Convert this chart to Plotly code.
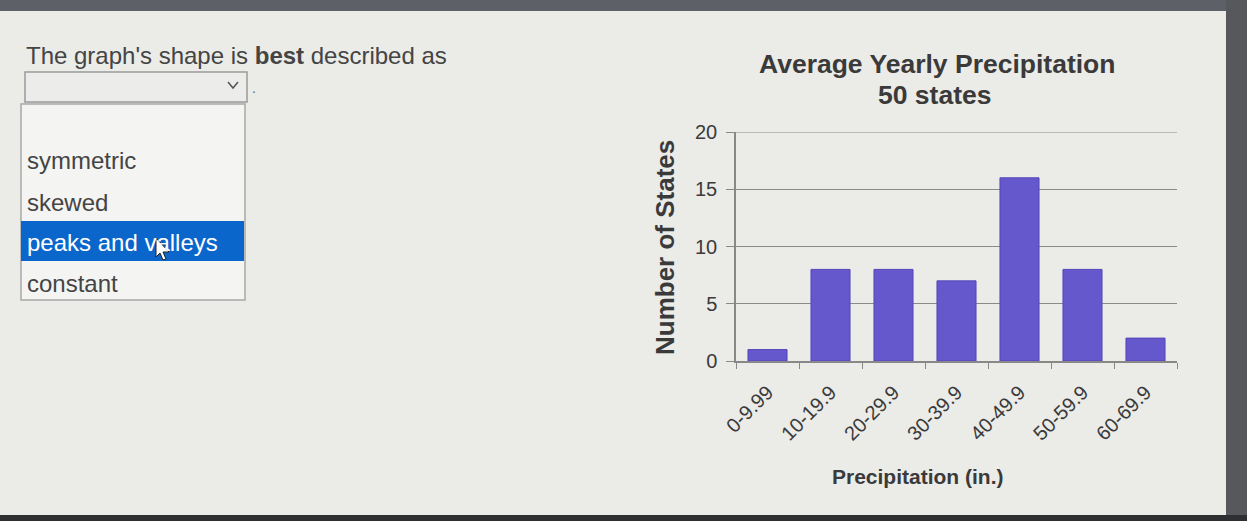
import plotly.graph_objects as go

W, H = 1247, 521

categories = ["0-9.99", "10-19.9", "20-29.9", "30-39.9", "40-49.9", "50-59.9", "60-69.9"]
counts = [1, 8, 8, 7, 16, 8, 2]
y_ticks = [0, 5, 10, 15, 20]
options = ["symmetric", "skewed", "peaks and valleys", "constant"]

FONT = "Arial, Liberation Sans, sans-serif"
TXT = "#3a3a3a"


def px(x):
    return x / W


def py(y):
    return 1 - y / H


fig = go.Figure()
fig.add_trace(go.Bar(
    x=categories, y=counts,
    marker=dict(color="#6558cc", line=dict(color="#5447bb", width=1)),
    hoverinfo="x+y", showlegend=False,
))

shapes = []
# photo frame strips
shapes.append(dict(type="rect", xref="paper", yref="paper", x0=0, x1=1, y0=py(11), y1=1,
                   fillcolor="#5d6066", line=dict(width=0), layer="below"))
shapes.append(dict(type="rect", xref="paper", yref="paper", x0=px(1226), x1=1, y0=0, y1=1,
                   fillcolor="#56585c", line=dict(width=0), layer="below"))
shapes.append(dict(type="rect", xref="paper", yref="paper", x0=0, x1=1, y0=0, y1=py(515),
                   fillcolor="#2e2f31", line=dict(width=0), layer="below"))

# dropdown box
shapes.append(dict(type="rect", xref="paper", yref="paper", x0=px(25), x1=px(247), y0=py(102), y1=py(72),
                   fillcolor="#ececea", line=dict(color="#9a9a9a", width=1.5), layer="below"))
# chevron
shapes.append(dict(type="path", xref="paper", yref="paper",
                   path=f"M {px(228)},{py(82)} L {px(233)},{py(88)} L {px(238)},{py(82)}",
                   line=dict(color="#555", width=1.5)))
# list box
shapes.append(dict(type="rect", xref="paper", yref="paper", x0=px(21), x1=px(245), y0=py(300), y1=py(104),
                   fillcolor="#f4f4f3", line=dict(color="#a8a8a8", width=1.5), layer="below"))
# highlight
shapes.append(dict(type="rect", xref="paper", yref="paper", x0=px(21), x1=px(244), y0=py(261), y1=py(221),
                   fillcolor="#0b66cc", line=dict(width=0), layer="below"))
# top gridline at the axis maximum
shapes.append(dict(type="line", xref="x domain", yref="y", x0=0, x1=1, y0=y_ticks[-1], y1=y_ticks[-1],
                   line=dict(color="#8a8a8a", width=1), layer="below"))
# cursor arrow
cx, cy = 156, 238
pts = [(0, 0), (0, 19), (4, 15), (7, 22), (10, 21), (7, 14), (13, 14)]
path = "M " + " L ".join(f"{px(cx + a)},{py(cy + b)}" for a, b in pts) + " Z"
shapes.append(dict(type="path", xref="paper", yref="paper", path=path,
                   fillcolor="#ffffff", line=dict(color="#222", width=1)))

annotations = []


def ann(text, x, y, size, color=TXT, xanchor="left", yanchor="middle", angle=0, bold=False):
    annotations.append(dict(
        text=f"<b>{text}</b>" if bold else text, x=px(x), y=py(y), xref="paper", yref="paper",
        xanchor=xanchor, yanchor=yanchor, showarrow=False, textangle=angle,
        font=dict(family=FONT, size=size, color=color),
    ))


ann("The graph's shape is <b>best</b> described as", 24, 55, 24, color="#444")
ann(".", 250, 88, 14, color="#666")
ys = [161, 202, 242, 283]
for opt, yy in zip(options, ys):
    ann(opt, 25, yy, 24, color="#ffffff" if opt == "peaks and valleys" else "#444")

ann("Average Yearly Precipitation", 937, 64, 26.5, xanchor="center", bold=True)
ann("50 states", 934, 95, 26.5, xanchor="center", bold=True)
ann("Number of States", 665, 248, 26, xanchor="center", angle=-90, bold=True)
ann("Precipitation (in.)", 918, 476, 21, xanchor="center", bold=True)

fig.update_layout(
    width=W, height=H, autosize=False,
    margin=dict(l=0, r=0, t=0, b=0, pad=0, autoexpand=False),
    paper_bgcolor="#ebebe8", plot_bgcolor="rgba(0,0,0,0)",
    bargap=0.38,
    shapes=shapes, annotations=annotations,
    font=dict(family=FONT, color=TXT),
    xaxis=dict(
        domain=[px(736), px(1177)], type="category",
        tickangle=-45, tickfont=dict(size=20, color=TXT),
        tickson="boundaries", ticks="outside", ticklen=6, tickcolor="#888",
        ticklabelstandoff=10, automargin=False,
        showline=True, linecolor="#888", linewidth=1.5, showgrid=False,
    ),
    yaxis=dict(
        domain=[py(361), py(132)], range=[0, 20], tickvals=y_ticks,
        tickfont=dict(size=20, color=TXT), automargin=False,
        ticks="outside", ticklen=8, tickcolor="#888", ticklabelstandoff=5,
        showgrid=True, gridcolor="#8a8a8a", gridwidth=1,
        showline=True, linecolor="#888", linewidth=1.5, zeroline=False,
    ),
)

fig.write_html(
    "out.html",
    post_script="document.body.style.margin='0';document.body.style.overflow='hidden';",
)
